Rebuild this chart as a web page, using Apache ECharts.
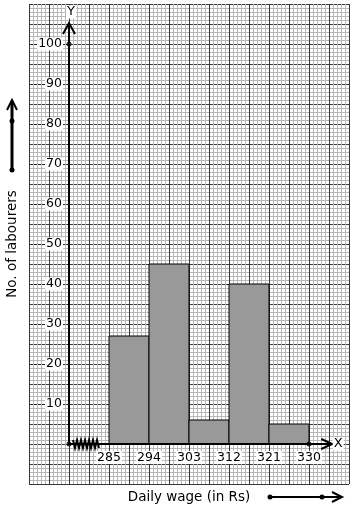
<!DOCTYPE html>
<html><head><meta charset="utf-8">
<script src="https://cdn.jsdelivr.net/npm/echarts@6/dist/echarts.min.js"></script>
<style>html,body{margin:0;padding:0;background:#fff}#c{width:354px;height:510px}</style>
</head><body><div id="c"></div>
<script>
const classEdges = [285, 294, 303, 312, 321, 330];
const frequencies = [27, 45, 6, 40, 5];
const yTicks = [10, 20, 30, 40, 50, 60, 70, 80, 90, 100];
const xTitle = 'Daily wage (in Rs)';
const yTitle = 'No. of labourers';

(function () {
const FONT = 'DejaVu Sans';
const xMin = 276, xMax = 335, yMin = 0, yMax = 105;
const pxPerX = 40 / 9, pxPerY = 4;

const bars = frequencies.map((f, i) => [classEdges[i], classEdges[i + 1], f]);

const chart = echarts.init(document.getElementById('c'), null, {renderer: 'canvas'});
const paperAxis = (max, z) => ({
  type: 'value', min: 0, max: max, interval: 20, gridIndex: 0, z: z,
  axisLine: {show: false}, axisTick: {show: false}, axisLabel: {show: false},
  splitLine: {show: true, lineStyle: {color: '#383838', width: 1}},
  minorTick: {show: false, splitNumber: 5},
  minorSplitLine: {show: true, lineStyle: {color: '#b8b8b8', width: 1}}
});

chart.setOption({
  animation: false,
  backgroundColor: '#fff',
  grid: [
    {left: 29, top: 4, width: 320, height: 480},
    {left: 69, top: 444 - (yMax - yMin) * pxPerY, width: (xMax - xMin) * pxPerX, height: (yMax - yMin) * pxPerY}
  ],
  xAxis: [
    paperAxis(320, 2),
    {type: 'value', gridIndex: 1, min: xMin, max: xMax, z: 5,
     axisLine: {show: true, onZero: false, lineStyle: {color: '#000', width: 2}},
     axisTick: {show: false},
     splitLine: {show: false},
     axisLabel: {customValues: classEdges, margin: 7, fontFamily: FONT, fontSize: 12.5, color: '#000',
                 backgroundColor: '#fff', padding: [0, 1]}}
  ],
  yAxis: [
    paperAxis(480, 1),
    {type: 'value', gridIndex: 1, min: yMin, max: yMax, z: 5,
     axisLine: {show: true, onZero: false, lineStyle: {color: '#000', width: 2}},
     axisTick: {show: true, customValues: yTicks, length: 40, lineStyle: {color: '#222', width: 1, type: [3, 1]}},
     splitLine: {show: false},
     axisLabel: {customValues: yTicks, margin: 6, fontFamily: FONT, fontSize: 12.5, color: '#000',
                 backgroundColor: '#fff', padding: [0, 1]}}
  ],
  series: [
    {type: 'custom', xAxisIndex: 1, yAxisIndex: 1, z: 3, data: bars,
     renderItem: function (params, api) {
       const p0 = api.coord([api.value(0), 0]);
       const p1 = api.coord([api.value(1), api.value(2)]);
       return {type: 'rect', shape: {x: p0[0], y: p1[1], width: p1[0] - p0[0], height: p0[1] - p1[1]},
               style: {fill: '#999999', stroke: '#000', lineWidth: 1}};
     }},
    {type: 'scatter', xAxisIndex: 1, yAxisIndex: 1, z: 6, symbolSize: 5, itemStyle: {color: '#000'},
     data: [[xMin, 0], [classEdges[classEdges.length - 1], 0], [xMin, yTicks[yTicks.length - 1]]]}
  ]
});

const o = chart.convertToPixel({gridIndex: 1}, [xMin, 0]);
const tp = chart.convertToPixel({gridIndex: 1}, [xMin, yMax]);
const rt = chart.convertToPixel({gridIndex: 1}, [xMax, 0]);
const blk = {stroke: '#000', lineWidth: 2, fill: null};
const zig = [];
for (let i = 0; i <= 13; i++) zig.push([o[0] + 4 + i * 2, o[1] + (i % 2 ? 4 : -4)]);

chart.setOption({
  graphic: [
    {type: 'polyline', z: 100, shape: {points: [[tp[0] - 6, tp[1] + 10], [tp[0], tp[1] - 1], [tp[0] + 6, tp[1] + 10]]}, style: blk},
    {type: 'polyline', z: 100, shape: {points: [[rt[0] - 10, rt[1] - 5], [rt[0] + 1, rt[1]], [rt[0] - 10, rt[1] + 5]]}, style: blk},
    {type: 'polyline', z: 100, shape: {points: zig}, style: {stroke: '#000', lineWidth: 2, fill: null}},
    {type: 'text', z: 100, x: tp[0] + 2, y: 12, style: {text: 'Y', font: '13px "DejaVu Sans"', fill: '#000', align: 'center', verticalAlign: 'middle', backgroundColor: '#fff', padding: [0, 1]}},
    {type: 'text', z: 100, x: rt[0] + 7, y: rt[1], style: {text: 'X', font: '13px "DejaVu Sans"', fill: '#000', align: 'center', verticalAlign: 'middle', backgroundColor: '#fff', padding: [0, 1]}},
    {type: 'text', z: 100, x: 189, y: 497, style: {text: xTitle, font: '13.5px "DejaVu Sans"', fill: '#000', align: 'center', verticalAlign: 'middle'}},
    {type: 'text', z: 100, x: 12, y: 244, rotation: Math.PI / 2, style: {text: yTitle, font: '13.5px "DejaVu Sans"', fill: '#000', align: 'center', verticalAlign: 'middle'}},
    {type: 'line', z: 100, shape: {x1: 12, y1: 170, x2: 12, y2: 101}, style: {stroke: '#000', lineWidth: 3}},
    {type: 'polyline', z: 100, shape: {points: [[7, 110], [12, 100], [17, 110]]}, style: blk},
    {type: 'circle', z: 100, shape: {cx: 12, cy: 121, r: 2.5}, style: {fill: '#000'}},
    {type: 'circle', z: 100, shape: {cx: 12, cy: 170, r: 2.5}, style: {fill: '#000'}},
    {type: 'line', z: 100, shape: {x1: 270, y1: 497, x2: 341, y2: 497}, style: {stroke: '#000', lineWidth: 2}},
    {type: 'polyline', z: 100, shape: {points: [[332, 492], [342, 497], [332, 502]]}, style: blk},
    {type: 'circle', z: 100, shape: {cx: 270, cy: 497, r: 2.5}, style: {fill: '#000'}},
    {type: 'circle', z: 100, shape: {cx: 322, cy: 497, r: 2.5}, style: {fill: '#000'}}
  ]
});
})();
</script></body></html>
